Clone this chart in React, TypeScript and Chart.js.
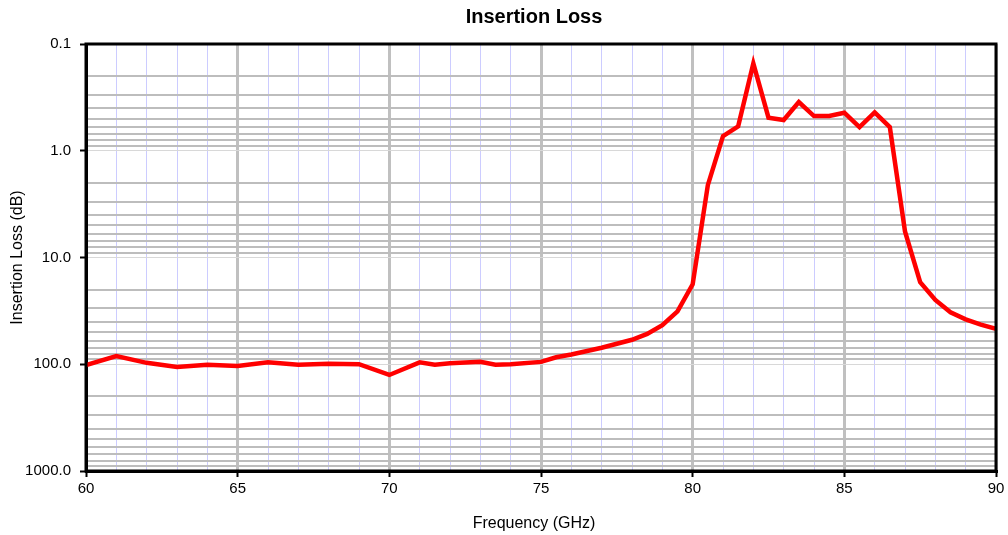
import React, { useEffect, useRef } from "react";
import { Chart, registerables } from "chart.js";

Chart.register(...registerables);

const frequencies = [
  60, 61, 62, 63, 64, 65, 66, 67, 68, 69, 70, 71, 71.5, 72, 73, 73.5, 74, 75, 75.5, 76, 77, 78, 78.5, 79, 79.5,
  80, 80.5, 81, 81.5, 82, 82.5, 83, 83.5, 84, 84.5, 85, 85.5, 86, 86.5, 87, 87.5, 88, 88.5, 89, 89.5, 90,
];
const insertionLoss = [
  102, 84, 97, 106, 101, 104, 96, 101, 99, 100, 126, 96, 101, 98, 95, 101, 100, 95, 86, 81, 70, 59, 52, 43, 32,
  17.8, 2.1, 0.73, 0.59, 0.152, 0.49, 0.515, 0.35, 0.473, 0.473, 0.44, 0.6, 0.437, 0.6, 5.7, 17, 25, 32.6, 38, 42.6, 46.7,
];
const yDecades = [0.1, 1, 10, 100, 1000];
const yDecadeLabels = ["0.1", "1.0", "10.0", "100.0", "1000.0"];
const xMajorStep = 5;

const FONT = "'Liberation Sans', Arial, sans-serif";

const isDecade = (v: number) => yDecades.some((d) => Math.abs(v / d - 1) < 1e-6);

export default function App() {
  const ref = useRef<HTMLCanvasElement | null>(null);

  useEffect(() => {
    if (!ref.current) return;
    const titlesPlugin = {
      id: "titlesFrame",
      afterDatasetsDraw(chart: any) {
        const { ctx, chartArea } = chart;
        ctx.save();
        ctx.strokeStyle = "#000";
        ctx.lineWidth = 3;
        ctx.strokeRect(chartArea.left, chartArea.top, chartArea.right - chartArea.left, chartArea.bottom - chartArea.top);
        ctx.restore();
      },
      afterDraw(chart: any) {
        const { ctx, chartArea } = chart;
        ctx.save();
        ctx.fillStyle = "#000";
        ctx.textAlign = "center";
        ctx.textBaseline = "alphabetic";
        ctx.font = `bold 20px ${FONT}`;
        ctx.fillText("Insertion Loss", 534, 23);
        ctx.font = `16px ${FONT}`;
        ctx.fillText("Frequency (GHz)", 534, 528);
        ctx.translate(18, (chartArea.top + chartArea.bottom) / 2);
        ctx.rotate(-Math.PI / 2);
        ctx.textBaseline = "middle";
        ctx.fillText("Insertion Loss (dB)", 0, 0);
        ctx.restore();
      },
    };

    const chart = new Chart(ref.current, {
      type: "line",
      data: {
        datasets: [
          {
            label: "Insertion Loss",
            data: frequencies.map((f, i) => ({ x: f, y: insertionLoss[i] })),
            borderColor: "#ff0000",
            backgroundColor: "#ff0000",
            borderWidth: 4.5,
            pointRadius: 0,
            tension: 0,
            fill: false,
          },
        ],
      },
      options: {
        animation: false,
        responsive: false,
        devicePixelRatio: 1,
        layout: { padding: { top: 44, right: 12, bottom: 0, left: 0 } },
        plugins: { legend: { display: false }, title: { display: false }, tooltip: { enabled: false } },
        scales: {
          x: {
            type: "linear",
            min: 60,
            max: 90,
            afterFit: (s: any) => {
              s.height = 64;
            },
            ticks: {
              stepSize: 1,
              autoSkip: false,
              maxRotation: 0,
              padding: 3,
              color: "#000",
              font: { family: FONT, size: 15 },
              callback: (v: any) => (Number(v) % xMajorStep === 0 ? String(v) : ""),
            },
            grid: {
              color: (c: any) => (c.tick && c.tick.value % xMajorStep === 0 ? "#c0c0c0" : "#ccccff"),
              lineWidth: (c: any) => (c.tick && c.tick.value % xMajorStep === 0 ? 3 : 1),
              tickColor: (c: any) => (c.tick && c.tick.value % xMajorStep === 0 ? "#000" : "rgba(0,0,0,0)"),
              tickWidth: 2,
              tickLength: 6,
            },
            border: { display: true, color: "#000", width: 3 },
          },
          y: {
            type: "logarithmic",
            reverse: true,
            min: 0.1,
            max: 1000,
            afterFit: (s: any) => {
              s.width = 86;
            },
            afterBuildTicks: (s: any) => {
              const ticks: any[] = [];
              for (const d of yDecades) {
                if (d === 1000) {
                  ticks.push({ value: d, major: true });
                  break;
                }
                for (let k = 1; k <= 9; k++) ticks.push({ value: +(d * k).toPrecision(6), major: k === 1 });
              }
              s.ticks = ticks;
            },
            ticks: {
              autoSkip: false,
              padding: 9,
              color: "#000",
              font: { family: FONT, size: 15 },
              callback: (v: any) => {
                const i = yDecades.findIndex((d) => Math.abs(Number(v) / d - 1) < 1e-6);
                return i >= 0 ? yDecadeLabels[i] : "";
              },
            },
            grid: {
              color: (c: any) => (c.tick && isDecade(c.tick.value) ? "#d8d8d8" : "#bdbdbd"),
              lineWidth: (c: any) => (c.tick && isDecade(c.tick.value) ? 1 : 2),
              tickColor: (c: any) => (c.tick && isDecade(c.tick.value) ? "#000" : "rgba(0,0,0,0)"),
              tickWidth: 2,
              tickLength: 6,
            },
            border: { display: true, color: "#000", width: 3 },
          },
        },
      },
      plugins: [titlesPlugin],
    } as any);
    return () => chart.destroy();
  }, []);

  return (
    <div style={{ position: "absolute", left: 0, top: 0, width: 1008, height: 535, background: "#fff" }}>
      <canvas ref={ref} width={1008} height={535} style={{ display: "block" }} />
    </div>
  );
}
